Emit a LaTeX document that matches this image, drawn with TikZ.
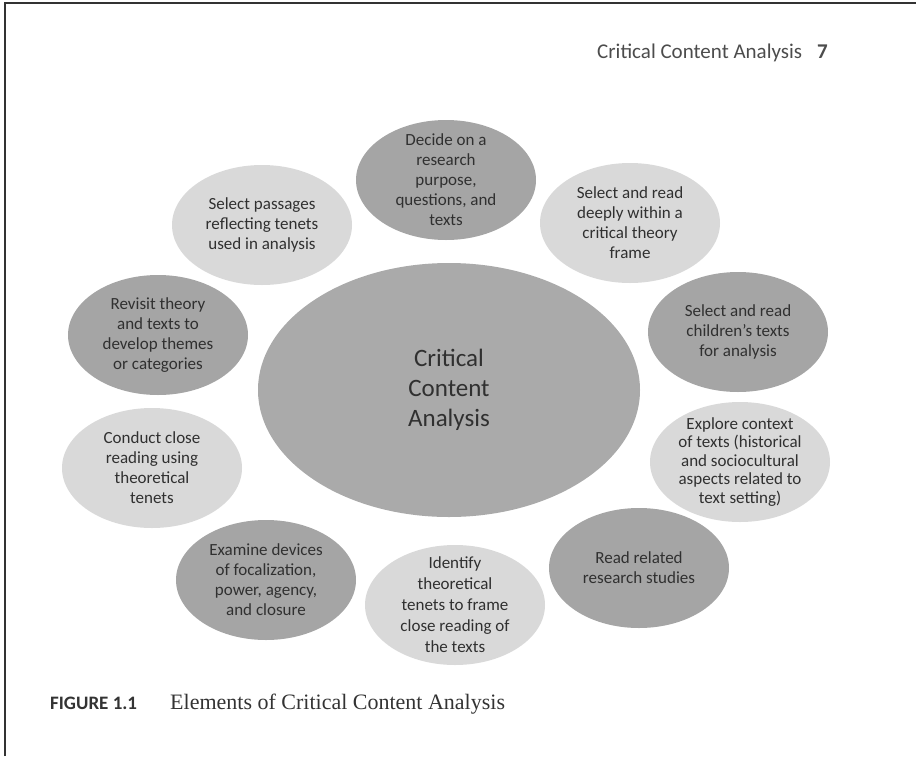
\documentclass[tikz,border=0pt]{standalone}
\usepackage{fontspec}
\setmainfont{Carlito}
\newfontfamily\capserif{Liberation Serif}
\usetikzlibrary{shapes.geometric}
\definecolor{darkcell}{RGB}{165,165,165}
\definecolor{lightcell}{RGB}{217,217,217}
\definecolor{hubfill}{RGB}{170,170,170}
\definecolor{inkgray}{RGB}{48,48,48}

\begin{document}
\begin{tikzpicture}[x=1pt, y=-1pt,
		cell/.style={ellipse, minimum width=180pt, minimum height=120pt, inner sep=0pt},
		dcell/.style={cell, fill=darkcell},
		lcell/.style={cell, fill=lightcell},
		note/.style={align=center, text=inkgray, font=\fontsize{17}{20}\selectfont}]
			\useasboundingbox (0,0) rectangle (916,756);
			%frame
			\draw[line width=2pt, black!80] (5,756) -- (5,3) -- (916,3);
			\node[anchor=base west, inner sep=0pt, text=black!70, font=\fontsize{21}{24}\selectfont] (head) at (597,58) {Critical Content Analysis\hspace{15pt}\textbf{7}};
			%hub
			\node[ellipse, minimum width=382pt, minimum height=254pt, inner sep=0pt, fill=hubfill] (hub) at (449,390) {};
			\node[align=center, text=inkgray, font=\fontsize{25}{30}\selectfont] at (hub) {Critical\\Content\\Analysis};
			%cells
			\node[dcell] (decide) at (446,180) {};
			\node[note] at (decide) {Decide on a\\research\\purpose,\\questions, and\\texts};
			\node[lcell] (deep) at (630,223) {};
			\node[note] at (deep) {Select and read\\deeply within a\\critical theory\\frame};
			\node[dcell] (kids) at (738,332) {};
			\node[note] at (kids) {Select and read\\children's texts\\for analysis};
			\node[lcell] (context) at (740,462) {};
			\node[note, font=\fontsize{17}{18.5}\selectfont] at (context) {Explore context\\of texts (historical\\and sociocultural\\aspects related to\\text setting)};
			\node[dcell] (studies) at (639,568) {};
			\node[note] at (studies) {Read related\\research studies};
			\node[lcell] (tenets) at (455,605) {};
			\node[note, font=\fontsize{17}{21}\selectfont] at (tenets) {Identify\\theoretical\\tenets to frame\\close reading of\\the texts};
			\node[dcell] (devices) at (266,580) {};
			\node[note] at (devices) {Examine devices\\of focalization,\\power, agency,\\and closure};
			\node[lcell] (close) at (152,468) {};
			\node[note] at (close) {Conduct close\\reading using\\theoretical\\tenets};
			\node[dcell] (revisit) at (158,335) {};
			\node[note] at (revisit) {Revisit theory\\and texts to\\develop themes\\or categories};
			\node[lcell] (passages) at (262,225) {};
			\node[note] at (passages) {Select passages\\reflecting tenets\\used in analysis};
			%caption
			\node[anchor=base west, inner sep=0pt, text=black!80, font=\fontsize{19}{22}\selectfont\bfseries] (fig) at (50,709) {FIGURE 1.1};
			\node[anchor=base west, inner sep=0pt, text=black!80, font=\capserif\fontsize{22}{25}\selectfont] (title) at (170,709) {Elements of Critical Content Analysis};
		\end{tikzpicture}
\end{document}
